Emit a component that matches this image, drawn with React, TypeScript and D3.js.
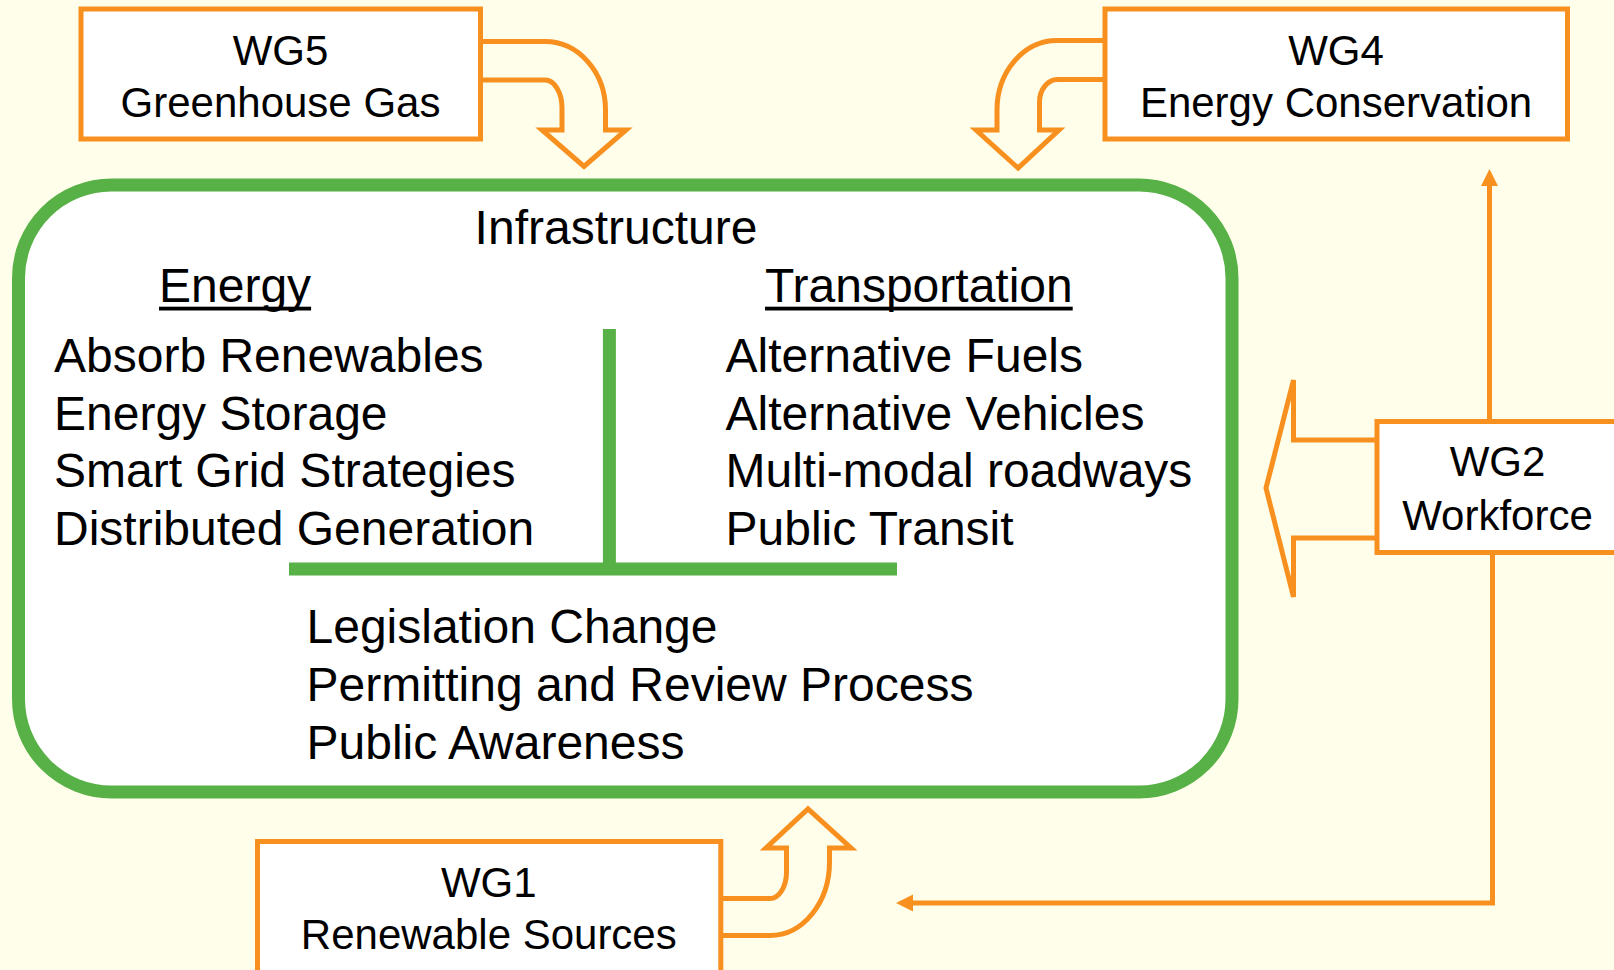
import React, { useEffect, useRef } from "react";
import * as d3 from "d3";

// text content of the diagram
const title = "Infrastructure";
const headings = ["Energy", "Transportation"];
const energyItems = [
  "Absorb Renewables",
  "Energy Storage",
  "Smart Grid Strategies",
  "Distributed Generation",
];
const transportItems = [
  "Alternative Fuels",
  "Alternative Vehicles",
  "Multi-modal roadways",
  "Public Transit",
];
const policyItems = [
  "Legislation Change",
  "Permitting and Review Process",
  "Public Awareness",
];
const wgCodes = ["WG5", "WG4", "WG2", "WG1"];
const wgNames = ["Greenhouse Gas", "Energy Conservation", "Workforce", "Renewable Sources"];

const W = 1614;
const H = 970;
const ORANGE = "#f7901e";
const GREEN = "#58b146";
const BG = "#fffeea";
const FONT = "'Liberation Sans', Arial, sans-serif";

// box frames (x, y, w, h) for each working group, same order as wgCodes
const wgFrames = [
  [81, 9, 399.5, 130],
  [1105, 9, 462.5, 130],
  [1377, 421.5, 260, 131],
  [257.5, 841.5, 463.3, 135],
];
const wgBaselines = [
  [65, 116.5],
  [65, 116.5],
  [476, 530],
  [896.7, 949.3],
];

const K = 0.5523;
// quarter ellipse: start going horizontal, end going vertical
const hv = (p: d3.Path, x0: number, y0: number, x1: number, y1: number) => {
  p.bezierCurveTo(x0 + K * (x1 - x0), y0, x1, y1 - K * (y1 - y0), x1, y1);
};
// quarter ellipse: start going vertical, end going horizontal
const vh = (p: d3.Path, x0: number, y0: number, x1: number, y1: number) => {
  p.bezierCurveTo(x0, y0 + K * (y1 - y0), x1 - K * (x1 - x0), y1, x1, y1);
};

const App: React.FC = () => {
  const svgRef = useRef<SVGSVGElement>(null);

  useEffect(() => {
    const svg = d3.select(svgRef.current);
    svg.selectAll("*").remove();

    svg.append("rect").attr("width", W).attr("height", H).attr("fill", BG);

    // rows of the two lists and the policy list
    const rowY = d3.scaleLinear().domain([0, 1]).range([372, 429.7]);
    const policyY = d3.scaleLinear().domain([0, 1]).range([643.3, 701.3]);

    // main rounded frame
    svg
      .append("rect")
      .attr("x", 18.5)
      .attr("y", 185)
      .attr("width", 1213.5)
      .attr("height", 607)
      .attr("rx", 93)
      .attr("fill", "#ffffff")
      .attr("stroke", GREEN)
      .attr("stroke-width", 13);

    // T divider
    const t = svg.append("g").attr("stroke", GREEN).attr("stroke-width", 13);
    t.append("line").attr("x1", 609.4).attr("x2", 609.4).attr("y1", 329).attr("y2", 569);
    t.append("line").attr("x1", 289).attr("x2", 897).attr("y1", 569).attr("y2", 569);

    const txt = svg
      .append("g")
      .attr("font-family", FONT)
      .attr("font-size", 48)
      .attr("fill", "#000");

    txt
      .append("text")
      .attr("x", 616)
      .attr("y", 243.5)
      .attr("text-anchor", "middle")
      .text(title);

    const headX = [159, 765];
    headings.forEach((h, i) => {
      const el = txt.append("text").attr("x", headX[i]).attr("y", 301.5).text(h);
      const w = (el.node() as SVGTextElement).getComputedTextLength();
      svg
        .append("rect")
        .attr("x", headX[i])
        .attr("y", 306.7)
        .attr("width", w)
        .attr("height", 3.8)
        .attr("fill", "#000");
    });

    txt
      .selectAll(null)
      .data(energyItems)
      .join("text")
      .attr("x", 54)
      .attr("y", (_, i) => rowY(i))
      .text((d) => d);

    txt
      .selectAll(null)
      .data(transportItems)
      .join("text")
      .attr("x", 725.5)
      .attr("y", (_, i) => rowY(i))
      .text((d) => d);

    txt
      .selectAll(null)
      .data(policyItems)
      .join("text")
      .attr("x", 306.5)
      .attr("y", (_, i) => policyY(i))
      .text((d) => d);

    // orange arrows
    const arrows = svg
      .append("g")
      .attr("fill", "none")
      .attr("stroke", ORANGE)
      .attr("stroke-width", 5)
      .attr("stroke-linejoin", "miter");

    // WG5 bent arrow
    const a5 = d3.path();
    a5.moveTo(480.5, 41.5);
    a5.lineTo(545, 41.5);
    hv(a5, 545, 41.5, 605.5, 110);
    a5.lineTo(605.5, 130);
    a5.lineTo(626, 130);
    a5.lineTo(584, 166.5);
    a5.lineTo(542, 130);
    a5.lineTo(562, 130);
    a5.lineTo(562, 108);
    vh(a5, 562, 108, 545, 80);
    a5.lineTo(480.5, 80);
    arrows.append("path").attr("d", a5.toString());

    // WG4 bent arrow
    const a4 = d3.path();
    a4.moveTo(1105, 40.5);
    a4.lineTo(1057, 40.5);
    hv(a4, 1057, 40.5, 997, 110);
    a4.lineTo(997, 130);
    a4.lineTo(976, 130);
    a4.lineTo(1018, 168);
    a4.lineTo(1059, 130);
    a4.lineTo(1039.5, 130);
    a4.lineTo(1039.5, 102);
    vh(a4, 1039.5, 102, 1057.5, 79.5);
    a4.lineTo(1105, 79.5);
    arrows.append("path").attr("d", a4.toString());

    // WG1 bent arrow
    const a1 = d3.path();
    a1.moveTo(721, 935.5);
    a1.lineTo(770, 935.5);
    hv(a1, 770, 935.5, 829.5, 862);
    a1.lineTo(829.5, 848);
    a1.lineTo(851, 848);
    a1.lineTo(808, 809);
    a1.lineTo(766, 848);
    a1.lineTo(786.5, 848);
    a1.lineTo(786.5, 872);
    vh(a1, 786.5, 872, 770, 898.5);
    a1.lineTo(721, 898.5);
    arrows.append("path").attr("d", a1.toString());

    // WG2 block arrow pointing left
    const a2 = d3.path();
    a2.moveTo(1377, 440);
    a2.lineTo(1293.5, 440);
    a2.lineTo(1293.5, 380);
    a2.lineTo(1266, 488);
    a2.lineTo(1293.5, 597);
    a2.lineTo(1293.5, 538);
    a2.lineTo(1377, 538);
    arrows.append("path").attr("d", a2.toString());

    // thin connector arrows from WG2
    arrows.append("path").attr("d", "M1489.5,421 V184");
    arrows.append("path").attr("d", "M1492.5,552 V903 H912");
    const heads = svg.append("g").attr("fill", ORANGE);
    heads.append("path").attr("d", "M1489.5,169 L1481,186 L1498,186 Z");
    heads.append("path").attr("d", "M896,903 L913,894.5 L913,911.5 Z");

    // working group boxes
    const boxes = svg
      .selectAll("g.wg")
      .data(wgCodes)
      .join("g")
      .attr("class", "wg");

    boxes
      .append("rect")
      .attr("x", (_, i) => wgFrames[i][0])
      .attr("y", (_, i) => wgFrames[i][1])
      .attr("width", (_, i) => wgFrames[i][2])
      .attr("height", (_, i) => wgFrames[i][3])
      .attr("fill", "#ffffff")
      .attr("stroke", ORANGE)
      .attr("stroke-width", 5);

    const boxCx = [280.5, 1336, 1497.5, 488.8];
    boxes
      .append("text")
      .attr("x", (_, i) => boxCx[i])
      .attr("y", (_, i) => wgBaselines[i][0])
      .attr("text-anchor", "middle")
      .attr("font-family", FONT)
      .attr("font-size", 42)
      .text((d) => d);

    boxes
      .append("text")
      .attr("x", (_, i) => boxCx[i])
      .attr("y", (_, i) => wgBaselines[i][1])
      .attr("text-anchor", "middle")
      .attr("font-family", FONT)
      .attr("font-size", 42)
      .text((_, i) => wgNames[i]);
  }, []);

  return (
    <svg
      ref={svgRef}
      width={W}
      height={H}
      style={{ position: "fixed", left: 0, top: 0, display: "block" }}
    />
  );
};

export default App;
